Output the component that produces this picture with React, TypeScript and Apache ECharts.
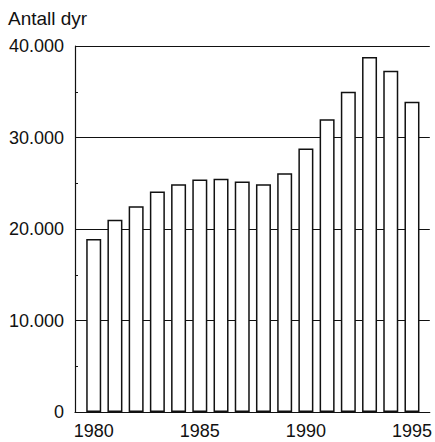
import React, { useEffect, useRef } from "react";
import * as echarts from "echarts";

const years = [1980, 1981, 1982, 1983, 1984, 1985, 1986, 1987, 1988, 1989, 1990, 1991, 1992, 1993, 1994, 1995];
const animals = [18900, 21000, 22500, 24100, 24900, 25400, 25500, 25200, 24900, 26100, 28800, 32000, 35000, 38800, 37300, 33900];
const xTickLabels = [1980, 1985, 1990, 1995];
const yTicks = [0, 10000, 20000, 30000, 40000];
const yTitle = "Antall dyr";

const FONT = "'Liberation Sans', Arial, sans-serif";

function fmt(v: number): string {
  if (v === 0) return "0";
  const s = String(Math.round(v));
  return s.replace(/\B(?=(\d{3})+(?!\d))/g, ".");
}

export default function App() {
  const ref = useRef<HTMLDivElement>(null);
  useEffect(() => {
    if (!ref.current) return;
    const chart = echarts.init(ref.current, undefined, { renderer: "svg" });
    chart.setOption({
      animation: false,
      backgroundColor: "#ffffff",
      textStyle: { fontFamily: FONT },
      graphic: [
        {
          type: "text",
          left: 8,
          top: 9,
          style: { text: yTitle, fontSize: 19, fontFamily: FONT, fill: "#111" },
        },
      ],
      grid: { left: 75, right: 0, top: 46, bottom: 30, containLabel: false },
      xAxis: {
        type: "value",
        min: 1979.118,
        max: 1995.84,
        axisLine: { show: true, onZero: false, lineStyle: { color: "#111", width: 1.2 } },
        axisTick: { show: false },
        splitLine: { show: false },
        axisLabel: {
          show: true,
          customValues: xTickLabels,
          formatter: (v: number) => String(v),
          fontSize: 18,
          fontFamily: FONT,
          color: "#111",
          margin: 10,
        },
      },
      yAxis: {
        type: "value",
        min: yTicks[0],
        max: yTicks[yTicks.length - 1],
        interval: 10000,
        axisLine: { show: true, lineStyle: { color: "#111", width: 1.2 } },
        axisTick: { show: true, inside: true, length: 3, lineStyle: { color: "#111" } },
        minorTick: { show: true, splitNumber: 2, length: 3, lineStyle: { color: "#111" } },
        splitLine: { show: true, lineStyle: { color: "#111", width: 1 } },
        axisLabel: {
          formatter: (v: number) => fmt(v),
          fontSize: 18,
          fontFamily: FONT,
          color: "#111",
          margin: 11,
          padding: [5, 0, 0, 0],
        },
      },
      series: [
        {
          type: "bar",
          data: years.map((y, i) => [y, animals[i]]),
          barWidth: 15,
          itemStyle: { color: "#ffffff", borderColor: "#111", borderWidth: 1.5 },
          z: 3,
        },
      ],
    });
    return () => chart.dispose();
  }, []);
  return <div ref={ref} style={{ position: "fixed", left: 0, top: 0, width: 435, height: 442 }} />;
}
